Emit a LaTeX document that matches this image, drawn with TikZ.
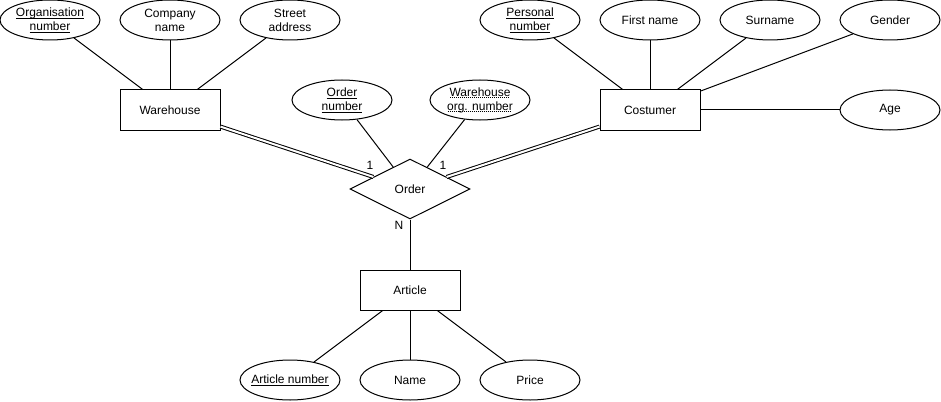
\documentclass[tikz,border=0pt]{standalone}
\usepackage{fontspec}
\setmainfont{Liberation Sans}
\usetikzlibrary{shapes.geometric}
\newsavebox{\ulbox}
\newcommand{\sul}[1]{\sbox{\ulbox}{#1}\rlap{\usebox{\ulbox}}\rule[-2pt]{\wd\ulbox}{0.8pt}}
\newcommand{\dul}[1]{\sbox{\ulbox}{#1}\rlap{\usebox{\ulbox}}\raisebox{-2pt}{\hbox to \wd\ulbox{\leaders\hbox to 2pt{\hss\rule{1pt}{0.8pt}\hss}\hfill}}}
\tikzset{
  base/.style={draw=black, line width=1pt, font=\fontsize{12}{14}\selectfont, align=center, inner sep=0pt},
  attr/.style={base, ellipse, minimum width=100pt, minimum height=40pt, inner xsep=-20pt, inner ysep=-10pt},
  entity/.style={base, rectangle, minimum width=100pt, minimum height=40pt},
  rel/.style={base, diamond, minimum width=120pt, minimum height=60pt},
  link/.style={line width=1pt, draw=black},
  dbl/.style={line width=1pt, draw=black, double=white, double distance=2pt},
  card/.style={font=\fontsize{12}{14}\selectfont, inner sep=0pt}
}
\begin{document}
\begin{tikzpicture}[x=1pt,y=-1pt]
\useasboundingbox (0,0) rectangle (941,401);
% Warehouse side
\node[attr] (orgnr) at (50,20) {\sul{Organisation}\\\sul{number}};
\node[attr] (comp) at (170,20) {Company\\name};
\node[attr] (street) at (290,20) {Street\\address};
\node[entity] (wh) at (170,110) {Warehouse};
% Order
\node[attr] (ordnr) at (342,100) {\sul{Order}\\\sul{number}};
\node[attr] (whorg) at (480,100) {\dul{Warehouse}\\\dul{org. number}};
\node[rel] (order) at (410,189) {Order};
% Costumer side
\node[attr] (pnr) at (530,20) {\sul{Personal}\\\sul{number}};
\node[attr] (fname) at (650,20) {First name};
\node[attr] (sname) at (770,20) {Surname};
\node[attr] (gender) at (890,20) {Gender};
\node[entity] (cust) at (650,110) {Costumer};
\node[attr] (age) at (890,110) {Age};
% Article
\node[entity] (art) at (410,290) {Article};
\node[attr] (artnr) at (290,380) {\sul{Article number}};
\node[attr] (name) at (410,380) {Name};
\node[attr] (price) at (530,380) {Price};
% connectors
\draw[link] (orgnr) -- (wh);
\draw[link] (comp) -- (wh);
\draw[link] (street) -- (wh);
\draw[link] (pnr) -- (cust);
\draw[link] (fname) -- (cust);
\draw[link] (sname) -- (cust);
\draw[link] (gender) -- (cust);
\draw[link] (age) -- (cust);
\draw[link] (ordnr) -- (order);
\draw[link] (whorg) -- (order);
\draw[dbl] (wh) -- (order);
\draw[dbl] (cust) -- (order);
\draw[link] (order) -- (art);
\draw[link] (art) -- (artnr);
\draw[link] (art) -- (name);
\draw[link] (art) -- (price);
% cardinalities
\node[card] (c1) at (370,165) {1};
\node[card] (c2) at (443,165) {1};
\node[card] (cN) at (399,225) {N};
\end{tikzpicture}
\end{document}
